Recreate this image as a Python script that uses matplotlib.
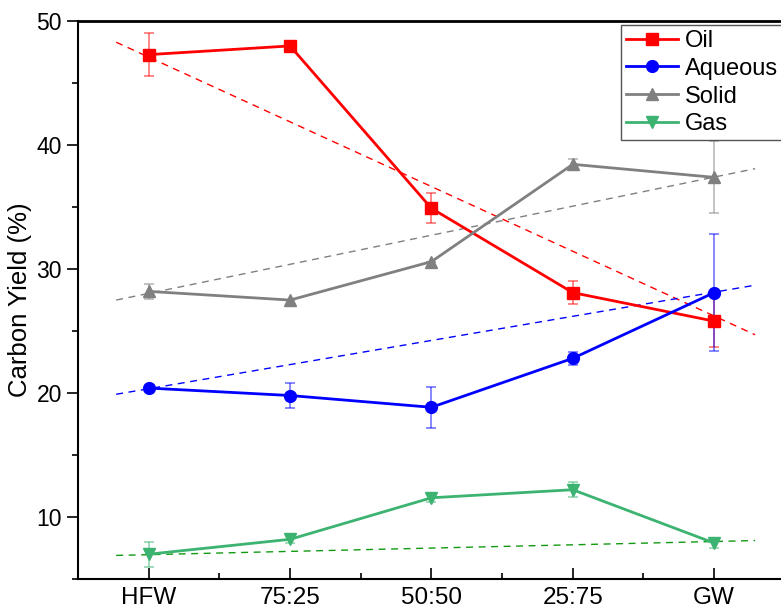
import numpy as np
import matplotlib.pyplot as plt
from matplotlib.ticker import MultipleLocator

plt.rcParams['font.family'] = ['Liberation Sans', 'DejaVu Sans']

# blend ratios on the x axis
labels = ['HFW', '75:25', '50:50', '25:75', 'GW']

# carbon yield (%) and error for each product
oil = [47.3, 48.0, 34.9, 28.1, 25.8]
oil_err = [1.75, 0.0, 1.2, 0.9, 2.1]
aqueous = [20.4, 19.8, 18.85, 22.8, 28.1]
aqueous_err = [0.0, 1.0, 1.65, 0.55, 4.7]
solid = [28.2, 27.5, 30.6, 38.45, 37.4]
solid_err = [0.6, 0.0, 0.0, 0.4, 2.9]
gas = [7.0, 8.2, 11.55, 12.2, 7.9]
gas_err = [1.0, 0.3, 0.3, 0.6, 0.4]

# dashed trend lines, start and end values
trend_x = [-0.23, 4.29]
oil_trend = [48.3, 24.7]
aqueous_trend = [19.9, 28.7]
solid_trend = [27.5, 38.1]
gas_trend = [6.9, 8.1]

series = [
    ('Oil', oil, oil_err, oil_trend, '#ff0000', '#ff0000', 's'),
    ('Aqueous', aqueous, aqueous_err, aqueous_trend, '#0000ff', '#0000ff', 'o'),
    ('Solid', solid, solid_err, solid_trend, '#808080', '#808080', '^'),
    ('Gas', gas, gas_err, gas_trend, '#3cb371', '#119a11', 'v'),
]

fig = plt.figure(figsize=(7.81, 6.13), dpi=100)
ax = fig.add_axes([0.0999, 0.0555, 0.905, 0.910])
x = np.arange(len(labels))

for name, y, err, tr, c, tc, m in series:
    ax.plot(trend_x, tr, color=tc, lw=1.0, ls=(0, (5, 4)), zorder=1)

for name, y, err, tr, c, tc, m in series:
    ax.errorbar(x, y, yerr=err, color=c, ecolor=c, elinewidth=1.2,
                capsize=3.5, capthick=1.2, lw=0, zorder=2, alpha=0.55)
    ax.plot(x, y, color=c, lw=2.0, marker=m, markersize=8.5, label=name, zorder=3)

ax.set_xlim(-0.5, 4.5)
ax.set_ylim(5, 50)
ax.set_xticks(x)
ax.set_xticklabels(labels)
ax.xaxis.set_minor_locator(MultipleLocator(0.5))
ax.yaxis.set_major_locator(MultipleLocator(10))
ax.yaxis.set_minor_locator(MultipleLocator(5))
ax.tick_params(axis='x', which='major', direction='in', length=8, width=1.2, labelsize=17.5, pad=6)
ax.tick_params(axis='x', which='minor', direction='in', length=4, width=1.2)
ax.tick_params(axis='y', which='major', direction='out', length=8, width=1.2, labelsize=16.5)
ax.tick_params(axis='y', which='minor', direction='out', length=4, width=1.2)
ax.set_ylabel('Carbon Yield (%)', fontsize=18.5, labelpad=3)

for s in ['left', 'bottom']:
    ax.spines[s].set_linewidth(1.5)
ax.spines['top'].set_linewidth(2.0)
ax.spines['right'].set_visible(False)

leg = ax.legend(loc='upper left', bbox_to_anchor=(0.768, 0.993), borderaxespad=0,
                fontsize=17, handlelength=2.2, labelspacing=0.25, borderpad=0.2,
                handletextpad=0.3, fancybox=False, framealpha=1)
leg.get_frame().set_edgecolor('#555555')
leg.get_frame().set_linewidth(1.0)

fig.savefig('out.png', dpi=100)
